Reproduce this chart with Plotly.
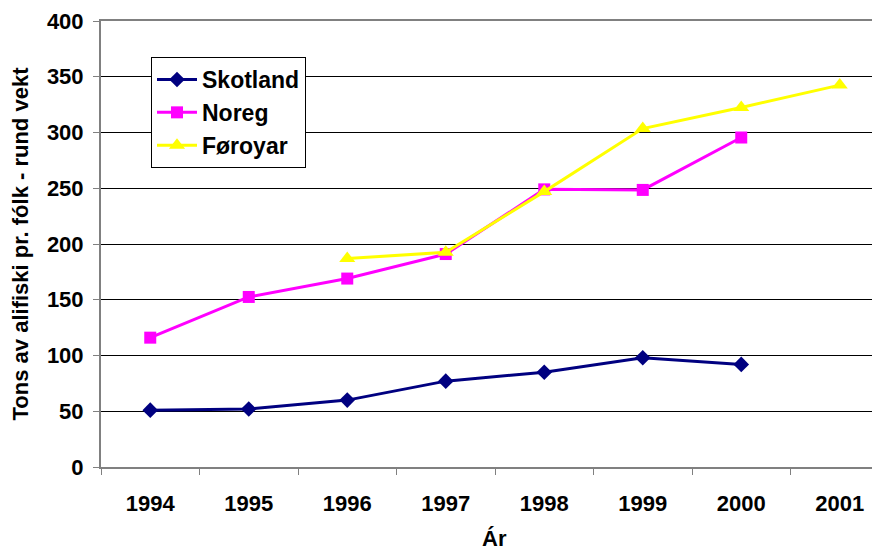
import plotly.graph_objects as go

years = ["1994", "1995", "1996", "1997", "1998", "1999", "2000", "2001"]
skotland = [51, 52, 60, 77, 85, 98, 92, None]
noreg = [116, 152.5, 169, 191, 249, 248.5, 295.5, None]
foroyar = [None, None, 187, 192.5, 247, 303.5, 322.5, 342.5]
x_title = "Ár"
y_title = "Tons av alifiski pr. fólk - rund vekt"

FONT = "Liberation Sans, Arial, sans-serif"

fig = go.Figure()
fig.add_trace(go.Scatter(x=years, y=skotland, name="Skotland", mode="lines+markers",
                         line=dict(color="#000080", width=3),
                         marker=dict(symbol="diamond", size=12, color="#000080")))
fig.add_trace(go.Scatter(x=years, y=noreg, name="Noreg", mode="lines+markers",
                         line=dict(color="#FF00FF", width=3),
                         marker=dict(symbol="square", size=12, color="#FF00FF")))
fig.add_trace(go.Scatter(x=years, y=foroyar, name="Føroyar", mode="lines+markers",
                         line=dict(color="#FFFF00", width=3),
                         marker=dict(symbol="triangle-up", size=14, color="#FFFF00")))

# page body has an 8px margin; compensate so the plot area lands at the target pixels
OFF = 8
plot_l, plot_r, plot_t, plot_b = 101 - OFF, 880 - OFF, 21 - OFF, 467 - OFF
W, H = 880 - OFF, 551 - OFF
cat_w = 98.5
xr = [-0.5, -0.5 + (plot_r - plot_l) / cat_w]
pw, ph = plot_r - plot_l, plot_b - plot_t

fig.update_layout(
    width=W, height=H,
    margin=dict(l=plot_l, r=W - plot_r, t=plot_t, b=H - plot_b, pad=0),
    paper_bgcolor="white", plot_bgcolor="white",
    font=dict(family=FONT, size=16, color="black", weight="bold"),
    showlegend=True,
    legend=dict(x=(151 - 101) / pw, y=(467 - 57) / ph,
                xanchor="left", yanchor="top",
                bgcolor="white", bordercolor="black", borderwidth=1,
                font=dict(family=FONT, size=23, color="black", weight="bold"),
                tracegroupgap=0, itemwidth=40),
    xaxis=dict(type="category", range=xr, showgrid=False, automargin=False,
               showline=True, linecolor="#808080", linewidth=2, mirror=True,
               ticks="outside", tickson="boundaries", ticklen=6, tickcolor="#808080",
               ticklabelstandoff=16,
               tickfont=dict(family=FONT, size=22, weight="bold"),
               fixedrange=True),
    yaxis=dict(range=[0, 400], dtick=50, showgrid=True, gridcolor="black", gridwidth=1,
               automargin=False,
               showline=True, linecolor="#808080", linewidth=2,
               ticks="outside", ticklen=6, tickcolor="#808080",
               ticklabelstandoff=5,
               tickfont=dict(family=FONT, size=22, weight="bold"),
               title=dict(text=y_title,
                          font=dict(family=FONT, size=22, weight="bold"), standoff=16),
               zeroline=False, fixedrange=True),
    annotations=[dict(text=x_title, xref="paper", yref="paper",
                      x=(495 - 101) / pw, y=-(524 - 467) / ph,
                      xanchor="center", yanchor="top", showarrow=False,
                      font=dict(family=FONT, size=22, color="black", weight="bold"))],
)

fig.write_html("out.html")
